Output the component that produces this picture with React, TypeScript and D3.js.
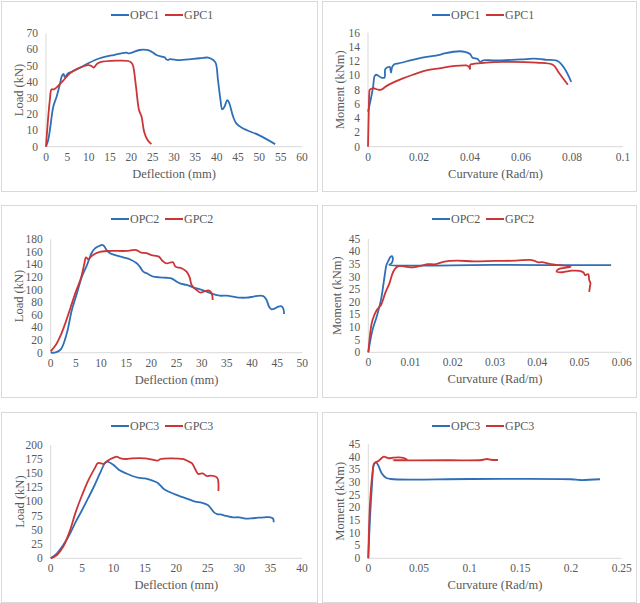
import React from "react";
import * as d3 from "d3";

type Pt = [number, number];

// Load-deflection (kN vs mm)
const opc1Load: Pt[] = [
  [0, 0], [0.5, 4], [1, 12], [1.7, 24.7], [2.5, 31], [3.3, 39], [3.7, 43.6], [4.1, 45], [4.4, 43],
  [5.2, 45.3], [6, 46.3], [8, 48.8], [9.9, 51.5], [12.6, 54.6], [15.8, 56.6], [18.9, 58], [19.3, 57.6],
  [22, 59.7], [23.6, 59.7], [24.7, 58.7], [25.9, 56.6], [27.1, 55.6], [27.8, 55.2], [28.2, 53.9],
  [28.6, 53.5], [29, 54], [31.4, 53.5], [36, 54.6], [38, 55], [39.2, 53.5], [39.8, 51.5], [40.3, 41.2],
  [40.9, 28.8], [41.3, 23], [41.8, 24.5], [42.5, 28.8], [43, 26.5], [43.8, 19], [44.6, 14.4],
  [46, 11.5], [50, 7], [53.7, 1.6],
];
const gpc1Load: Pt[] = [
  [0, 0], [0.15, 6], [0.9, 28.8], [1.3, 35.4], [1.9, 35.4], [2.5, 36.6], [4.1, 41], [5.6, 45.3],
  [7.6, 48.4], [9.9, 50.4], [10.7, 49.8], [11.2, 48.8], [11.9, 51], [12.6, 52.1], [16.5, 53.1],
  [19.3, 52.9], [20, 51.9], [20.4, 50], [21.1, 37], [21.8, 22.6], [22.4, 18.5], [23, 9.3], [23.8, 4.1],
  [24.7, 1.6],
];
const opc2Load: Pt[] = [
  [0, 0], [1, 0.5], [2, 5.3], [3.2, 30.7], [4.2, 67.8], [5.2, 94], [6.2, 120.7], [7.2, 139],
  [8.1, 157.8], [8.8, 165.7], [9.8, 170], [10.1, 171], [10.6, 169.4], [11.1, 163], [11.8, 157.8],
  [12.8, 155], [14.4, 151.4], [15.8, 148], [17.1, 142], [17.7, 136.6], [18.4, 128.6], [19.1, 126],
  [19.7, 123.3], [20.4, 120.7], [21.7, 119.6], [23, 119], [24, 118], [25, 112.8], [25.7, 110],
  [27, 107.5], [28.3, 103.8], [29.7, 100.6], [31, 97], [32.3, 93], [33.6, 90.5], [35, 90.5],
  [36.3, 89], [37.6, 87.4], [38.9, 87.4], [40.3, 89], [41.6, 90.5], [42.3, 89.5], [42.9, 83.6],
  [43.4, 73], [43.9, 68.8], [44.6, 70.4], [45.2, 73], [45.8, 74], [46.2, 70.4], [46.4, 61.4],
];
const gpc2Load: Pt[] = [
  [0, 2], [1, 12.2], [2, 28], [3, 49], [4, 73], [5, 97], [6, 118], [6.7, 142], [7, 151.4], [7.5, 148],
  [8, 152.5], [9, 157.8], [10, 160.4], [12, 161.5], [15, 161.5], [17, 163], [18, 158.8], [19, 158],
  [20, 155], [21.5, 152.5], [22.2, 146], [23, 141.8], [24.3, 143.5], [24.8, 136.6], [26, 134],
  [27, 128.6], [27.6, 120], [28, 107.5], [28.6, 102], [29, 99.5], [29.8, 95.3], [30.5, 97.5],
  [31.5, 98.5], [32, 94], [32.2, 83.6],
];
const opc3Load: Pt[] = [
  [0, 0], [1, 8.8], [2, 23.5], [3, 42], [4, 64.7], [5, 85.3], [6, 107], [7, 129.4], [8, 154],
  [8.7, 169.4], [9, 170.6], [10, 164.7], [10.9, 155.9], [12, 150], [13, 145.3], [13.9, 142.4],
  [15, 141], [16, 138], [17, 133.5], [18, 122.4], [19, 116.5], [20, 111.8], [21, 108], [22, 104],
  [23, 100], [24, 98.2], [25, 94], [25.5, 88], [26, 81], [26.5, 78], [27, 77.5], [28, 74.7],
  [29, 72.4], [30, 72.4], [31, 70], [32, 70.5], [33, 71.8], [34, 72.4], [35, 72.4], [35.4, 70],
  [35.5, 63.5],
];
const gpc3Load: Pt[] = [
  [0, 0], [1, 5.9], [2, 20.6], [3, 47], [4, 82.4], [5, 111.8], [6, 138], [7, 158.8], [7.5, 168],
  [8, 167.6], [8.5, 167], [9, 171.8], [10, 177.6], [10.5, 179.4], [11, 177], [12, 175.3], [13, 176.5],
  [15, 176.5], [16, 174.7], [17, 172.4], [17.5, 175.3], [19, 176.5], [21, 175.3], [22, 170.6],
  [22.5, 167.6], [23, 157.6], [23.5, 148.8], [24.2, 150], [24.8, 145.3], [25.5, 146], [26.3, 144],
  [26.6, 140], [26.7, 118.8],
];

// Moment-curvature (kNm vs Rad/m)
const opc1Moment: Pt[] = [
  [0, 4.9], [0.001, 6.5], [0.002, 8.4], [0.0026, 9.9], [0.0033, 10.1], [0.0052, 9.7], [0.0065, 9.7],
  [0.0068, 10.9], [0.0085, 11.2], [0.009, 10.4], [0.0095, 11.2], [0.0105, 11.6], [0.012, 11.7],
  [0.02, 12.4], [0.028, 12.9], [0.03, 13.1], [0.036, 13.4], [0.038, 13.3], [0.04, 13.0],
  [0.041, 12.5], [0.043, 12.3], [0.044, 11.9], [0.045, 12.1], [0.046, 12.15], [0.05, 12.1],
  [0.06, 12.25], [0.065, 12.35], [0.07, 12.2], [0.0745, 12.0], [0.077, 11.0], [0.0797, 9.1],
];
const gpc1Moment: Pt[] = [
  [0, 0], [0.0003, 5], [0.0005, 7.5], [0.0007, 8.0], [0.002, 8.2], [0.004, 8.0], [0.0052, 8.0],
  [0.0072, 8.5], [0.0098, 9.0], [0.0137, 9.6], [0.0176, 10.1], [0.0229, 10.7], [0.028, 11.0],
  [0.0333, 11.3], [0.0386, 11.4], [0.0396, 11.2], [0.04, 10.9], [0.0401, 11.5], [0.041, 11.6],
  [0.0464, 11.8], [0.053, 11.9], [0.066, 11.8], [0.0725, 11.5], [0.075, 10.3], [0.0784, 8.7],
];
const opc2Moment: Pt[] = [
  [0, 0], [0.001, 8.9], [0.002, 14.2], [0.003, 20.8], [0.0039, 30.7], [0.0043, 34.7], [0.0048, 36.5],
  [0.0052, 37.8], [0.0056, 38.2], [0.0058, 37.5], [0.0057, 36], [0.0054, 35.2], [0.005, 34.8],
  [0.03, 34.7], [0.0575, 34.6],
];
const gpc2Moment: Pt[] = [
  [0, 0], [0.0006, 9.5], [0.001, 12.8], [0.002, 16.8], [0.003, 18.8], [0.004, 23.5], [0.005, 27.4],
  [0.0059, 32], [0.0066, 33.7], [0.0075, 34.3], [0.01, 33.7], [0.012, 34.2], [0.014, 35],
  [0.016, 35], [0.018, 36], [0.021, 36.4], [0.025, 36.1], [0.03, 36.3], [0.035, 36.4], [0.0383, 36.7],
  [0.0392, 36.4], [0.0403, 35.7], [0.041, 35.8], [0.0438, 34.9], [0.0479, 34], [0.045, 33],
  [0.0446, 32], [0.046, 31.8], [0.0482, 32.4], [0.05, 32.3], [0.051, 31.6], [0.0513, 30.7],
  [0.0521, 31], [0.0523, 28.7], [0.0526, 27.5], [0.0525, 26.3], [0.0523, 24],
];
const opc3Moment: Pt[] = [
  [0, 0], [0.0016, 15.1], [0.0035, 28], [0.0056, 37.1], [0.0076, 37.9], [0.0099, 36.6],
  [0.0132, 33.6], [0.0174, 31.8], [0.022, 31.3], [0.1, 31.3], [0.2, 31.2], [0.209, 30.9],
  [0.2286, 31.2],
];
const gpc3Moment: Pt[] = [
  [0, 0], [0.0016, 21], [0.004, 33], [0.0059, 37.5], [0.0099, 38.4], [0.013, 39.5], [0.0155, 40.1],
  [0.0197, 39.5], [0.0247, 39.7], [0.03, 39.8], [0.0345, 39.6], [0.038, 38.9], [0.0247, 38.7],
  [0.08, 38.7], [0.112, 38.8], [0.117, 39.2], [0.121, 38.9], [0.128, 38.8],
];

const loadTicks1 = d3.range(0, 71, 10);
const deflTicks1 = d3.range(0, 61, 5);
const momTicks1 = d3.range(0, 17, 2);
const curvTicks1 = [0, 0.02, 0.04, 0.06, 0.08, 0.1];
const loadTicks2 = d3.range(0, 181, 20);
const deflTicks2 = d3.range(0, 51, 5);
const momTicks2 = d3.range(0, 46, 5);
const curvTicks2 = [0, 0.01, 0.02, 0.03, 0.04, 0.05, 0.06];
const loadTicks3 = d3.range(0, 201, 25);
const deflTicks3 = d3.range(0, 41, 5);
const momTicks3 = d3.range(0, 46, 5);
const curvTicks3 = [0, 0.05, 0.1, 0.15, 0.2, 0.25];

const BLUE = "#2f6fb8";
const RED = "#cc3535";
const FONT = "Liberation Serif";
const TXT = "#595959";
const AXIS = "#d9d9d9";

interface PanelProps {
  frame: [number, number, number, number];
  px: [number, number];
  py: [number, number];
  xTicks: number[];
  yTicks: number[];
  xTitle: string;
  yTitle: string;
  yTitleOff: number;
  names: [string, string];
  blue: Pt[];
  red: Pt[];
}

const fmt = (v: number) => String(+v.toFixed(4));

function Panel(p: PanelProps) {
  const [fx, fy, fw, fh] = p.frame;
  const x = d3.scaleLinear().domain([p.xTicks[0], p.xTicks[p.xTicks.length - 1]]).range(p.px);
  const y = d3.scaleLinear().domain([p.yTicks[0], p.yTicks[p.yTicks.length - 1]]).range(p.py);
  const line = d3.line<Pt>().x(d => x(d[0])).y(d => y(d[1])).curve(d3.curveCatmullRom.alpha(0.5));
  const lx = fx + 110;
  const ly = fy + 14;
  const cx = (p.px[0] + p.px[1]) / 2;
  const cy = (p.py[0] + p.py[1]) / 2;
  return (
    <g>
      <rect x={fx + 0.5} y={fy + 0.5} width={fw} height={fh} fill="#fff" stroke={AXIS} />
      {/* legend */}
      <line x1={lx} x2={lx + 18} y1={ly} y2={ly} stroke={BLUE} strokeWidth={2} />
      <text x={lx + 19} y={ly + 4} fontFamily={FONT} fontSize={12} fill={TXT}>{p.names[0]}</text>
      <line x1={lx + 54} x2={lx + 72} y1={ly} y2={ly} stroke={RED} strokeWidth={2} />
      <text x={lx + 73} y={ly + 4} fontFamily={FONT} fontSize={12} fill={TXT}>{p.names[1]}</text>
      {/* axes */}
      <line x1={x.range()[0]} x2={x.range()[1]} y1={y(0)} y2={y(0)} stroke={AXIS} />
      <line x1={x(0)} x2={x(0)} y1={y.range()[0]} y2={y.range()[1]} stroke={AXIS} />
      {p.yTicks.map(t => (
        <text key={"y" + t} x={x(0) - 8} y={y(t) + 3.8} fontFamily={FONT} fontSize={11.5} fill={TXT} textAnchor="end">{t}</text>
      ))}
      {p.xTicks.map(t => (
        <text key={"x" + t} x={x(t)} y={y(0) + 14} fontFamily={FONT} fontSize={11.5} fill={TXT} textAnchor="middle">{fmt(t)}</text>
      ))}
      <text x={cx} y={y(0) + 31} fontFamily={FONT} fontSize={12.5} fill={TXT} textAnchor="middle">{p.xTitle}</text>
      <text transform={`translate(${x(0) - p.yTitleOff},${cy}) rotate(-90)`} y={4} fontFamily={FONT} fontSize={12.5} fill={TXT} textAnchor="middle">{p.yTitle}</text>
      {/* series */}
      <path d={line(p.blue) || ""} fill="none" stroke={BLUE} strokeWidth={1.8} strokeLinejoin="round" />
      <path d={line(p.red) || ""} fill="none" stroke={RED} strokeWidth={1.8} strokeLinejoin="round" />
    </g>
  );
}

export default function App() {
  const L = "Load (kN)";
  const D = "Deflection (mm)";
  const M = "Moment (kNm)";
  const C = "Curvature (Rad/m)";
  return (
    <svg width={640} height={603} style={{ position: "absolute", left: 0, top: 0, background: "#fff" }}>
      <Panel frame={[1, 1, 316, 190]} px={[46, 302]} py={[146.7, 33.3]} xTicks={deflTicks1} yTicks={loadTicks1}
        xTitle={D} yTitle={L} yTitleOff={27} names={["OPC1", "GPC1"]} blue={opc1Load} red={gpc1Load} />
      <Panel frame={[322, 1, 314, 190]} px={[368, 623]} py={[146.7, 32.7]} xTicks={curvTicks1} yTicks={momTicks1}
        xTitle={C} yTitle={M} yTitleOff={28} names={["OPC1", "GPC1"]} blue={opc1Moment} red={gpc1Moment} />
      <Panel frame={[1, 205, 316, 192]} px={[50.7, 302.3]} py={[352.7, 239.3]} xTicks={deflTicks2} yTicks={loadTicks2}
        xTitle={D} yTitle={L} yTitleOff={32} names={["OPC2", "GPC2"]} blue={opc2Load} red={gpc2Load} />
      <Panel frame={[322, 205, 314, 192]} px={[368.3, 621.7]} py={[352.3, 239]} xTicks={curvTicks2} yTicks={momTicks2}
        xTitle={C} yTitle={M} yTitleOff={31} names={["OPC2", "GPC2"]} blue={opc2Moment} red={gpc2Moment} />
      <Panel frame={[1, 412, 316, 190]} px={[50.7, 302]} py={[558.3, 445]} xTicks={deflTicks3} yTicks={loadTicks3}
        xTitle={D} yTitle={L} yTitleOff={31} names={["OPC3", "GPC3"]} blue={opc3Load} red={gpc3Load} />
      <Panel frame={[322, 412, 314, 190]} px={[368.3, 621.7]} py={[558.3, 444.3]} xTicks={curvTicks3} yTicks={momTicks3}
        xTitle={C} yTitle={M} yTitleOff={28} names={["OPC3", "GPC3"]} blue={opc3Moment} red={gpc3Moment} />
    </svg>
  );
}
